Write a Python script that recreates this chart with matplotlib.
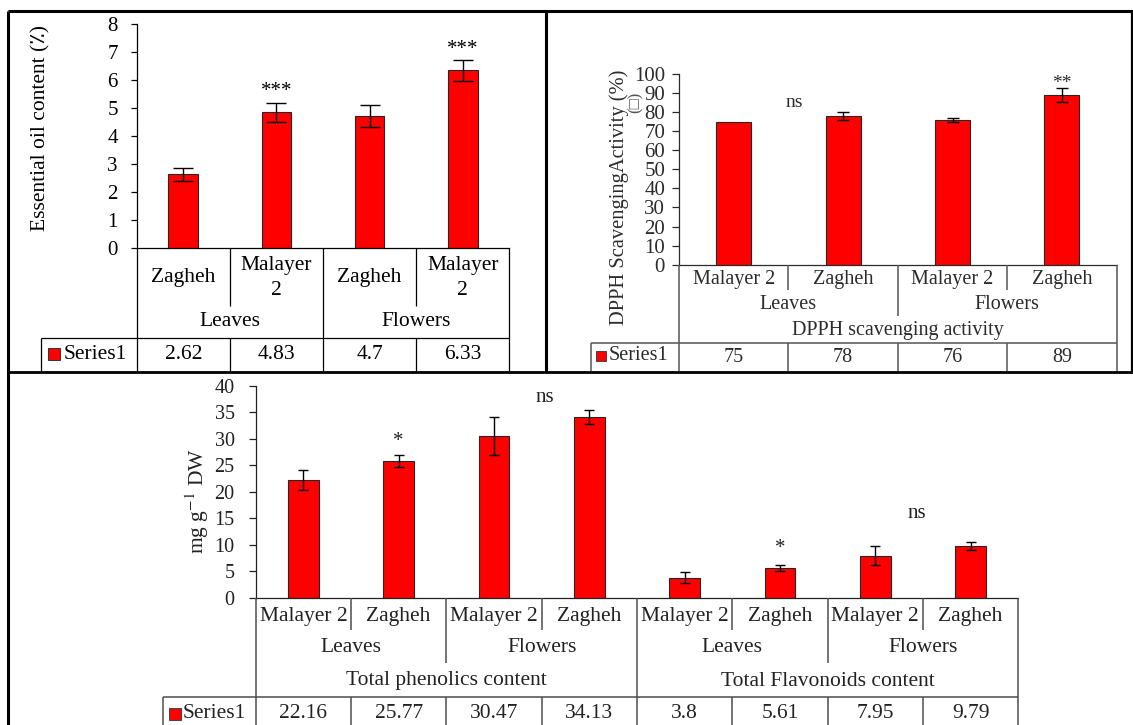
import matplotlib
matplotlib.use("Agg")
import matplotlib.pyplot as plt
from matplotlib.lines import Line2D

plt.rcParams['font.family'] = ['Liberation Serif', 'DejaVu Sans']
plt.rcParams['mathtext.fontset'] = 'stix'

W, H = 1133, 725

# ---------------- data ----------------
oil_cultivars = ['Zagheh', 'Malayer 2', 'Zagheh', 'Malayer 2']
oil_organs = ['Leaves', 'Flowers']
oil_values = [2.62, 4.83, 4.7, 6.33]
oil_err = [0.24, 0.35, 0.40, 0.36]
oil_yticks = [0, 1, 2, 3, 4, 5, 6, 7, 8]

dpph_cultivars = ['Malayer 2', 'Zagheh', 'Malayer 2', 'Zagheh']
dpph_organs = ['Leaves', 'Flowers']
dpph_group = 'DPPH scavenging activity'
dpph_values = [75, 78, 76, 89]
dpph_err = [0, 2.1, 1.0, 3.7]
dpph_yticks = [0, 10, 20, 30, 40, 50, 60, 70, 80, 90, 100]

phen_cultivars = ['Malayer 2', 'Zagheh'] * 4
phen_organs = ['Leaves', 'Flowers', 'Leaves', 'Flowers']
phen_groups = ['Total phenolics content', 'Total Flavonoids content']
phen_values = [22.16, 25.77, 30.47, 34.13, 3.8, 5.61, 7.95, 9.79]
phen_err = [1.9, 1.2, 3.55, 1.35, 1.0, 0.57, 1.8, 0.7]
phen_yticks = [0, 5, 10, 15, 20, 25, 30, 35, 40]

series_name = 'Series1'

# significance marks: (x in category units, y in data units, text)
oil_marks = [(1, 5.42, '***'), (3, 6.93, '***')]
dpph_marks = [(0.556, 82.9, 'ns'), (3, 92.8, '**')]
phen_marks = [(2.536, 37.0, 'ns'), (1, 28.6, '*'), (5, 8.5, '*'), (6.44, 15.0, 'ns')]

fig = plt.figure(figsize=(W / 100, H / 100), dpi=100)


def add_axes_px(left, top, right, bottom):
    return fig.add_axes([left / W, 1 - bottom / H, (right - left) / W, (bottom - top) / H])


def line_px(x0, y0, x1, y1, color, lw):
    fig.add_artist(Line2D([x0 / W, x1 / W], [1 - y0 / H, 1 - y1 / H],
                          transform=fig.transFigure, color=color, lw=lw,
                          solid_capstyle='butt'))


def text_px(x, y, s, **kw):
    fig.text(x / W, 1 - y / H, s, **kw)


def xpx(ax, d):
    return ax.transData.transform((d, 0))[0]


def setup_axes(ax, n, yticks, tick_fs, pad, tlen, color):
    ax.set_xlim(-0.5, n - 0.5)
    ax.set_ylim(yticks[0], yticks[-1])
    ax.set_yticks(yticks)
    ax.set_xticks([])
    for s in ['top', 'right']:
        ax.spines[s].set_visible(False)
    for s in ['left', 'bottom']:
        ax.spines[s].set_color(color)
        ax.spines[s].set_linewidth(0.9)
    ax.tick_params(axis='y', direction='out', length=tlen, width=0.9,
                   color=color, labelsize=tick_fs, pad=pad, labelcolor=color)
    ax.patch.set_alpha(0)


def draw_bars(ax, values, err, capsize):
    x = list(range(len(values)))
    ax.bar(x, values, width=0.32, color='#ff0000', edgecolor='#262626',
           linewidth=0.8, zorder=2)
    xe = [i for i in x if err[i] > 0]
    ax.errorbar(xe, [values[i] for i in xe], yerr=[err[i] for i in xe],
                fmt='none', ecolor='black', elinewidth=1.0, capsize=capsize,
                capthick=1.0, zorder=3)


# ================= top-left: essential oil =================
ax1 = add_axes_px(136.7, 23.7, 509.3, 247.7)
setup_axes(ax1, 4, oil_yticks, 15, 9, 4.6, 'black')
draw_bars(ax1, oil_values, oil_err, 7.5)
for x, y, s in oil_marks:
    ax1.text(x, y, s, ha='center', va='baseline', fontsize=15, color='black')

c1 = 'black'
y0, y1, y2, y3 = 247.7, 306, 337.7, 371
leg_left = 41.4
xl, xr = xpx(ax1, -0.5), xpx(ax1, 3.5)
line_px(xl, y0, xl, y3, c1, 0.9)
line_px(xr, y0, xr, y3, c1, 0.9)
for b in [0.5, 2.5]:
    line_px(xpx(ax1, b), y0, xpx(ax1, b), y1, c1, 0.9)
line_px(xpx(ax1, 1.5), y0, xpx(ax1, 1.5), y2, c1, 0.9)
for b in [0.5, 1.5, 2.5]:
    line_px(xpx(ax1, b), y2, xpx(ax1, b), y3, c1, 0.9)
line_px(leg_left, y2, xr, y2, c1, 0.9)
line_px(leg_left, y2, leg_left, y3, c1, 0.9)
for i, s in enumerate(oil_cultivars):
    text_px(xpx(ax1, i), (y0 + y1) / 2 + 1, s.replace(' ', '\n'), ha='center',
            va='center', fontsize=15.5, linespacing=1.4, color=c1)
for j, s in enumerate(oil_organs):
    text_px(xpx(ax1, 2 * j + 0.5), (y1 + y2) / 2, s, ha='center', va='center',
            fontsize=15.5, color=c1)
for i, v in enumerate(oil_values):
    text_px(xpx(ax1, i), (y2 + y3) / 2, f'{v:g}', ha='center', va='center',
            fontsize=15.5, color=c1)
fig.add_artist(Line2D([54 / W], [1 - 354 / H], marker='s', markersize=8,
                      markerfacecolor='#ff0000', markeredgecolor='#333333',
                      markeredgewidth=0.7, transform=fig.transFigure))
text_px(64, 354, series_name, ha='left', va='center', fontsize=15.5, color=c1)
text_px(41, 128, 'Essential oil content (٪)', rotation=90, ha='center',
        va='center', fontsize=15.5, color=c1)

# ================= top-right: DPPH =================
c2 = '#2b2b2b'
lc2 = '#555555'
ax2 = add_axes_px(679, 74, 1116.7, 264.7)
setup_axes(ax2, 4, dpph_yticks, 15, 5, 5, c2)
draw_bars(ax2, dpph_values, dpph_err, 4)
for x, y, s in dpph_marks:
    ax2.text(x, y, s, ha='center', va='baseline', fontsize=14, color=c2)

y0, y1, y2, y3, y4 = 264.7, 290, 316, 342.7, 371
leg_left = 591
xl, xr = xpx(ax2, -0.5), xpx(ax2, 3.5)
line_px(xl, y0, xl, y4, lc2, 1.1)
line_px(xr, y0, xr, y4, lc2, 1.1)
for b in [0.5, 2.5]:
    line_px(xpx(ax2, b), y0, xpx(ax2, b), y1, lc2, 1.1)
line_px(xpx(ax2, 1.5), y0, xpx(ax2, 1.5), y2, lc2, 1.1)
for b in [0.5, 1.5, 2.5]:
    line_px(xpx(ax2, b), y3, xpx(ax2, b), y4, lc2, 1.1)
line_px(leg_left, y3, xr, y3, lc2, 1.1)
line_px(leg_left, y3, leg_left, y4, lc2, 1.1)
for i, s in enumerate(dpph_cultivars):
    text_px(xpx(ax2, i), 279, s, ha='center', va='center', fontsize=14.5, color=c2)
for j, s in enumerate(dpph_organs):
    text_px(xpx(ax2, 2 * j + 0.5), 305, s, ha='center', va='center',
            fontsize=14.5, color=c2)
text_px(xpx(ax2, 1.5), 330, dpph_group, ha='center', va='center',
        fontsize=14.5, color=c2)
for i, v in enumerate(dpph_values):
    text_px(xpx(ax2, i), 357, f'{v:g}', ha='center', va='center',
            fontsize=14.5, color=c2)
fig.add_artist(Line2D([601 / W], [1 - 356 / H], marker='s', markersize=6.5,
                      markerfacecolor='#ff0000', markeredgecolor='#444444',
                      markeredgewidth=0.7, transform=fig.transFigure))
text_px(609, 356, series_name, ha='left', va='center', fontsize=14.5, color=c2)
text_px(619, 197, 'DPPH ScavengingActivity (%)', rotation=90, ha='center',
        va='center', fontsize=14.8, color=c2)
text_px(636, 102, '(□)', rotation=90, ha='center', va='center',
        fontsize=12, color='#555555')

# ================= bottom: phenolics / flavonoids =================
c3 = '#222222'
lc3 = '#4d4d4d'
ax3 = add_axes_px(255.7, 385.7, 1018.3, 597.7)
setup_axes(ax3, 8, phen_yticks, 14.5, 10, 5.2, c3)
draw_bars(ax3, phen_values, phen_err, 3.7)
for x, y, s in phen_marks:
    ax3.text(x, y, s, ha='center', va='baseline', fontsize=15, color=c3)

y0, y1, y2, y3, y4 = 597.7, 630, 663, 696.7, 725
leg_left = 162.7
xl, xr = xpx(ax3, -0.5), xpx(ax3, 7.5)
line_px(xl, y0, xl, y4, lc3, 1.1)
line_px(xr, y0, xr, y4, lc3, 1.1)
for b in [0.5, 2.5, 4.5, 6.5]:
    line_px(xpx(ax3, b), y0, xpx(ax3, b), y1, lc3, 1.1)
for b in [1.5, 5.5]:
    line_px(xpx(ax3, b), y0, xpx(ax3, b), y2, lc3, 1.1)
line_px(xpx(ax3, 3.5), y0, xpx(ax3, 3.5), y3, lc3, 1.1)
for b in [0.5, 1.5, 2.5, 3.5, 4.5, 5.5, 6.5]:
    line_px(xpx(ax3, b), y3, xpx(ax3, b), y4, lc3, 1.1)
line_px(leg_left, y3, xr, y3, lc3, 1.1)
line_px(leg_left, y3, leg_left, y4, lc3, 1.1)
for i, s in enumerate(phen_cultivars):
    text_px(xpx(ax3, i), 616, s, ha='center', va='center', fontsize=15.5, color=c3)
for j, s in enumerate(phen_organs):
    text_px(xpx(ax3, 2 * j + 0.5), 648, s, ha='center', va='center',
            fontsize=15.5, color=c3)
for k, s in enumerate(phen_groups):
    text_px(xpx(ax3, 4 * k + 1.5), 681, s, ha='center', va='center',
            fontsize=15.5, color=c3)
for i, v in enumerate(phen_values):
    text_px(xpx(ax3, i), 714, f'{v:g}', ha='center', va='center',
            fontsize=15.5, color=c3)
fig.add_artist(Line2D([175 / W], [1 - 713.5 / H], marker='s', markersize=8,
                      markerfacecolor='#ff0000', markeredgecolor='#444444',
                      markeredgewidth=0.7, transform=fig.transFigure))
text_px(183, 713.5, series_name, ha='left', va='center', fontsize=15.5, color=c3)
text_px(197, 501, 'mg g$^{-1}$ DW', rotation=90, ha='center', va='center',
        fontsize=15.5, color=c3)

# ================= panel frames =================
fc = 'black'
line_px(8, 11, 1133, 11, fc, 2.2)
line_px(8, 11, 8, 725, fc, 2.2)
line_px(546, 11, 546, 372, fc, 2.2)
line_px(8, 372, 1133, 372, fc, 2.0)
line_px(1131.5, 11, 1131.5, 372, fc, 1.6)

fig.savefig('out.png', dpi=100)
